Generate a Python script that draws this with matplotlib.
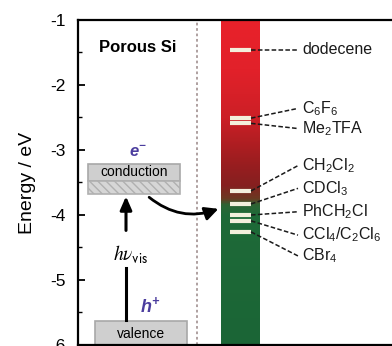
import matplotlib
matplotlib.use("Agg")
import matplotlib.pyplot as plt
import numpy as np
from matplotlib.colors import LinearSegmentedColormap
from matplotlib.patches import Rectangle, FancyArrowPatch

plt.rcParams['font.family'] = ['Liberation Sans', 'DejaVu Sans']
plt.rcParams['mathtext.fontset'] = 'custom'
plt.rcParams['mathtext.rm'] = 'Liberation Sans'
plt.rcParams['mathtext.it'] = 'Liberation Sans:italic'
plt.rcParams['mathtext.default'] = 'regular'
plt.rcParams['axes.unicode_minus'] = False

# Data: energy levels (eV) of adsorbate molecules
molecules = ['dodecene', 'C$_6$F$_6$', 'Me$_2$TFA', 'CH$_2$Cl$_2$', 'CDCl$_3$',
             'PhCH$_2$Cl', 'CCl$_4$/C$_2$Cl$_6$', 'CBr$_4$']
levels = [-1.46, -2.51, -2.59, -3.63, -3.83, -4.00, -4.09, -4.26]
label_pos = [-1.46, -2.36, -2.67, -3.24, -3.59, -3.95, -4.31, -4.63]
yticks = [-1, -2, -3, -4, -5, -6]

fig = plt.figure(figsize=(3.92, 3.46), dpi=100)
ax = fig.add_axes([78/392, 1/346, 314/392, 325/346])
ax.set_xlim(0, 314)
ax.set_ylim(-6, -1)

for s in ['top', 'left', 'bottom']:
    ax.spines[s].set_linewidth(1.6)
ax.spines['right'].set_visible(False)
ax.set_xticks([])
ax.set_yticks(yticks)
ax.set_yticklabels([str(t) for t in yticks], fontsize=12.5)
ax.set_yticks(np.arange(-5.5, -1, 1.0), minor=True)
ax.tick_params(axis='y', which='major', direction='in', length=5, width=1.3, pad=9)
ax.tick_params(axis='y', which='minor', direction='in', length=3, width=1.0)
ax.set_ylabel('Energy / eV', fontsize=14, labelpad=10)

# Gradient bar
cmap = LinearSegmentedColormap.from_list('rg', [
    (0.00, '#1b6536'), (0.40, '#1e6a38'), (0.43, '#2d6434'),
    (0.45, '#6a3a22'), (0.49, '#852020'), (0.56, '#9a1d1f'),
    (0.70, '#cc1f26'), (0.85, '#e2212a'), (1.00, '#e8222a')])
grad = np.linspace(0, 1, 400).reshape(-1, 1)
ax.imshow(grad, extent=[143, 182, -6, -1], aspect='auto', cmap=cmap,
          origin='lower', zorder=1)

# dotted separator
ax.axvline(119, color='#a89898', ls=(0, (1.5, 1.5)), lw=1.3, zorder=1)

# level bars and labels
ax.hlines(levels, 152, 173, color='#f3efdc', lw=3, zorder=3)
for lv, lp, name in zip(levels, label_pos, molecules):
    ax.plot([173, 220], [lv, lp], color='#1a1a1a', ls=(0, (3, 1.5)), lw=1.1, zorder=3)
    ax.text(224, lp, name, fontsize=11.5, va='center', ha='left', color='#1a1a1a')

ax.text(60, -1.43, 'Porous Si', fontsize=12, fontweight='bold',
        ha='center', va='center')

# conduction band box
ax.add_patch(Rectangle((10, -3.47), 92, 0.26, facecolor='#cfcfcf',
                       edgecolor='#a8a8a8', lw=1.2, zorder=2))
ax.add_patch(Rectangle((10, -3.67), 92, 0.20, facecolor='#d6d6d6',
                       edgecolor='#b0b0b0', hatch='\\\\\\\\', lw=1.2, zorder=2))
ax.text(56, -3.34, 'conduction', fontsize=10, ha='center', va='center', zorder=4)
ax.text(60, -3.04, 'e$^{-}$', fontsize=12, fontweight='bold', style='italic',
        color='#4b3d9e', ha='center', va='center')

# valence band box
ax.add_patch(Rectangle((17, -6.05), 92, 0.42, facecolor='#cfcfcf',
                       edgecolor='#a8a8a8', lw=1.2, zorder=2))
ax.text(63, -5.83, 'valence', fontsize=10, ha='center', va='center', zorder=4)
ax.text(72, -5.40, 'h$^{+}$', fontsize=13, fontweight='bold', style='italic',
        color='#4b3d9e', ha='center', va='center')

# excitation arrow
ax.plot([48, 48], [-5.62, -4.82], color='black', lw=2.2, zorder=3)
ax.annotate('', xy=(48, -3.67), xytext=(48, -4.28),
            arrowprops=dict(arrowstyle='-|>,head_width=0.35,head_length=0.8',
                            color='black', lw=2.2), zorder=3)
ax.text(53, -4.60, r'$\mathit{h}\mathit{\nu}_{\mathsf{vis}}$', fontsize=14,
        ha='center', va='center', math_fontfamily='stix')

# transfer arrow
arr = FancyArrowPatch((69, -3.70), (143, -3.89),
                      connectionstyle='arc3,rad=0.3',
                      arrowstyle='-|>,head_width=4,head_length=8',
                      color='black', lw=2.0, zorder=4)
ax.add_patch(arr)

fig.savefig('out.png', dpi=100)
